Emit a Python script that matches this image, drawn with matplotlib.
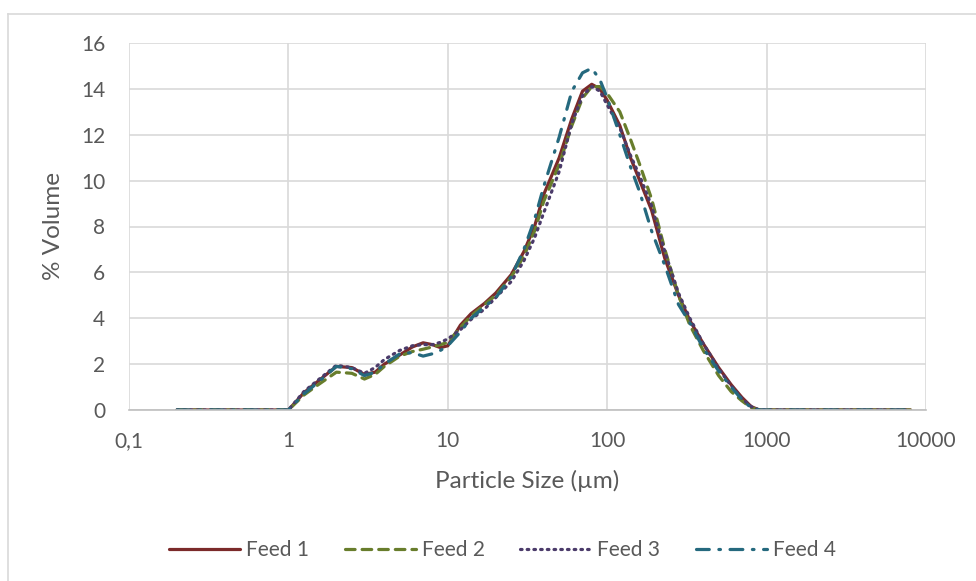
import matplotlib.pyplot as plt
from matplotlib.lines import Line2D
from matplotlib.ticker import FixedLocator, NullLocator

# particle sizes (um)
sizes = [0.2, 0.3, 0.4, 0.5, 0.6, 0.8, 1.0, 1.25, 1.5, 2.0, 2.5, 3.0, 3.5, 4.0,
         5.0, 6.0, 7.0, 8.0, 9.0, 10, 12, 14, 17, 20, 25, 30, 35, 40, 50, 60,
         70, 80, 90, 100, 120, 140, 160, 190, 230, 280, 330, 400, 500, 600,
         700, 800, 900, 1000, 1500, 2000, 3000, 4000, 6000, 8000]

zeros_low = [0, 0, 0, 0, 0, 0, 0]
zeros_high = [0, 0, 0, 0, 0, 0, 0]

feed1 = zeros_low + [0.75, 1.2, 1.9, 1.85, 1.55, 1.65, 2.0, 2.4, 2.75, 2.93,
                     2.85, 2.72, 2.8, 3.7, 4.2, 4.65, 5.1, 5.9, 6.9, 8.0, 9.4,
                     11.0, 12.7, 13.9, 14.2, 14.0, 13.5, 12.4, 11.0, 10.0,
                     8.7, 6.6, 5.0, 3.9, 2.9, 1.85, 1.1, 0.55, 0.15, 0.0] + zeros_high
feed2 = zeros_low + [0.65, 1.05, 1.65, 1.6, 1.35, 1.55, 1.9, 2.35, 2.55, 2.65,
                     2.75, 2.85, 2.95, 3.6, 4.1, 4.6, 5.0, 5.8, 6.7, 7.8, 9.1,
                     10.7, 12.4, 13.6, 14.1, 14.1, 13.8, 13.0, 11.8, 10.7,
                     9.2, 7.0, 5.0, 3.7, 2.6, 1.5, 0.8, 0.4, 0.1, 0.0] + zeros_high
feed3 = zeros_low + [0.8, 1.25, 1.95, 1.85, 1.6, 1.85, 2.2, 2.6, 2.8, 2.85,
                     2.85, 2.95, 3.1, 3.5, 3.95, 4.4, 4.9, 5.6, 6.5, 7.5, 8.6,
                     10.4, 12.5, 13.7, 14.1, 13.9, 13.3, 12.3, 11.1, 10.2,
                     8.9, 6.9, 5.1, 4.0, 2.9, 1.8, 1.05, 0.5, 0.15, 0.0] + zeros_high
feed4 = zeros_low + [0.7, 1.15, 1.9, 1.8, 1.5, 1.65, 2.0, 2.45, 2.5, 2.35,
                     2.45, 2.6, 2.8, 3.4, 4.0, 4.5, 4.9, 5.8, 7.0, 8.3, 9.75,
                     11.9, 13.9, 14.7, 14.9, 14.4, 13.6, 12.0, 10.6, 9.5,
                     7.8, 6.3, 4.6, 3.8, 2.7, 1.7, 1.0, 0.45, 0.1, 0.0] + zeros_high

labels = ["Feed 1", "Feed 2", "Feed 3", "Feed 4"]
colors = ["#7B2A2A", "#687D2C", "#4B3B6A", "#25697E"]
styles = ["-", (0, (3, 2.2)), (0, (0.5, 1.6)), (0, (4, 3, 0.5, 3))]
x_ticks = [0.1, 1, 10, 100, 1000, 10000]
x_tick_labels = ["0,1", "1", "10", "100", "1000", "10000"]

plt.rcParams["font.family"] = ["Lato", "DejaVu Sans"]
text_color = "#595959"
grid_color = "#D9D9D9"

fig = plt.figure(figsize=(9.76, 5.81), dpi=100)
ax = fig.add_axes([129 / 976, 1 - 410 / 581, (926 - 129) / 976, (410 - 43) / 581])

for series, label, color, ls in zip([feed1, feed2, feed3, feed4], labels, colors, styles):
    ax.plot(sizes, series, color=color, linestyle=ls, linewidth=2.3,
            label=label, solid_capstyle="round", dash_capstyle="round")

ax.set_xscale("log")
ax.set_xlim(0.1, 10000)
ax.set_ylim(0, 16)
ax.xaxis.set_major_locator(FixedLocator(x_ticks))
ax.xaxis.set_minor_locator(NullLocator())
ax.set_xticklabels(x_tick_labels)
ax.set_yticks(range(0, 17, 2))
ax.tick_params(axis="both", length=0, labelsize=15, colors=text_color)
ax.tick_params(axis="x", pad=15)
ax.tick_params(axis="y", pad=17)
ax.grid(True, color=grid_color, linewidth=1.2)
ax.set_axisbelow(True)
for side in ["top", "right", "left"]:
    ax.spines[side].set_visible(False)
ax.spines["bottom"].set_color("#BFBFBF")
ax.spines["bottom"].set_linewidth(1.2)

ax.set_xlabel("Particle Size (µm)", fontsize=17.5, color=text_color, labelpad=14)
ax.set_ylabel("% Volume", fontsize=17.5, color=text_color, labelpad=12)

handles = [Line2D([0], [0], color=c, linestyle=s, linewidth=2.3,
                  solid_capstyle="round", dash_capstyle="round")
           for c, s in zip(colors, styles)]
fig.legend(handles, labels, loc="center", bbox_to_anchor=(0.515, 1 - 550 / 581),
           ncol=4, frameon=False, fontsize=15, labelcolor=text_color,
           handlelength=3.4, handletextpad=0.3, columnspacing=1.7)

# chart area border (top and left edges visible in the crop)
fig.add_artist(Line2D([8 / 976, 8 / 976], [0, 1 - 14 / 581], color=grid_color,
                      linewidth=1.2, transform=fig.transFigure))
fig.add_artist(Line2D([8 / 976, 1], [1 - 14 / 581, 1 - 14 / 581], color=grid_color,
                      linewidth=1.2, transform=fig.transFigure))

fig.savefig("out.png", dpi=100)
